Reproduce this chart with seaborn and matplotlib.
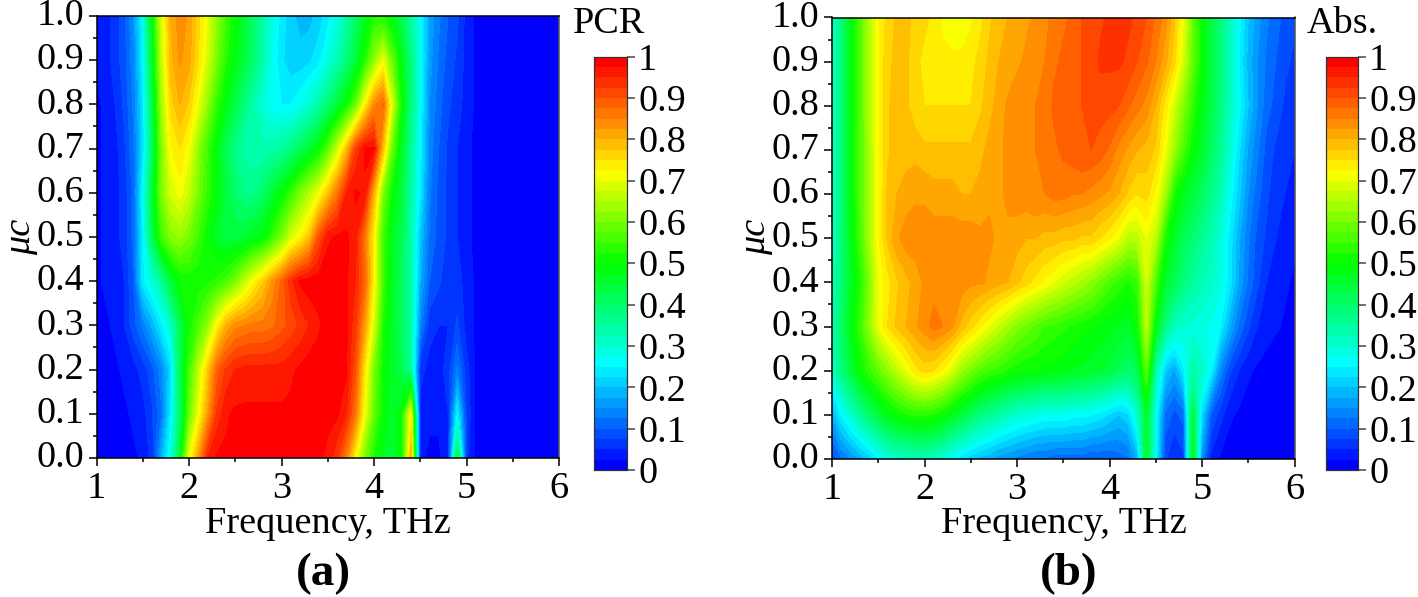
import numpy as np
import pandas as pd
import matplotlib
matplotlib.use("Agg")
import matplotlib.pyplot as plt
from matplotlib.colors import LinearSegmentedColormap
from matplotlib.ticker import FixedLocator
import seaborn as sns

# frequency columns (THz) and mu_c rows, values below are percent
freq = [round(1 + 0.1 * i, 1) for i in range(51)]
mu = [1.0, 0.9, 0.8, 0.7, 0.6, 0.5, 0.4, 0.3, 0.2, 0.1, 0.0]

pcr_vals = [
    [3,4,6,9,15, 26,48,68,80,84, 82,76,70,62,55, 50,45,40,34,28, 24,21,19,19,21, 24,28,33,40,47, 52,52,48,42,35, 26,17,13,10,8, 4,2,1,0,0, 0,0,0,0,0, 0],
    [3,4,6,9,14, 25,45,66,79,83, 81,75,68,60,53, 48,44,39,33,27, 23,21,21,22,24, 28,33,38,44,52, 62,70,58,48,38, 27,16,12,9,7, 4,2,1,0,0, 0,0,0,0,0, 0],
    [2,3,5,8,13, 23,42,63,76,80, 77,70,62,54,48, 43,38,33,29,26, 25,25,27,30,34, 39,44,50,58,72, 84,88,68,50,38, 26,15,11,8,6, 4,2,1,0,0, 0,0,0,0,0, 0],
    [2,3,4,7,12, 22,40,60,72,75, 71,62,55,48,42, 37,34,33,33,34, 35,38,41,45,49, 57,67,78,92,98, 98,78,58,46,36, 25,14,10,7,5, 3,2,1,0,0, 0,0,0,0,0, 0],
    [2,3,4,6,11, 26,44,60,68,71, 67,60,54,49,44, 40,37,37,40,45, 49,54,60,65,70, 78,86,95,98,97, 80,60,50,44,34, 24,13,9,7,5, 3,2,1,0,0, 0,0,0,0,0, 0],
    [2,3,4,6,11, 24,42,55,61,63, 60,55,50,46,44, 44,45,47,49,54, 60,68,72,78,90, 97,98,98,96,86, 72,55,47,42,34, 20,12,9,7,5, 3,2,1,0,0, 0,0,0,0,0, 0],
    [2,3,4,5,10, 24,29,35,44,50, 51,51,52,53,56, 60,66,72,77,83, 88,94,98,99,99, 99,99,98,95,88, 72,55,46,41,34, 18,10,8,6,6, 4,2,1,0,0, 0,0,0,0,0, 0],
    [1,2,3,5,9, 13,18,24,30,42, 51,56,62,72,80, 84,85,86,86,87, 89,91,93,95,97, 99,99,98,93,82, 68,52,46,41,34, 14,6,5,5,8, 4,2,1,0,0, 0,0,0,0,0, 0],
    [1,1,2,3,4, 6,9,14,22,42, 55,66,77,88,93, 95,96,96,96,96, 96,97,98,99,99, 99,99,98,90,74, 60,50,46,42,35, 6,4,4,6,13, 6,2,1,0,0, 0,0,0,0,0, 0],
    [1,1,1,2,3, 4,7,12,24,40, 58,70,82,93,97, 98,98,98,98,98, 98,98,98,98,98, 98,98,95,86,71, 58,50,46,50,72, 4,3,3,5,25, 7,2,1,0,0, 0,0,0,0,0, 0],
    [1,1,1,1,2, 3,6,18,28,45, 70,82,95,98,98, 98,98,98,98,98, 98,98,98,98,98, 97,93,85,72,60, 52,47,44,50,80, 3,2,2,4,45, 6,2,1,0,0, 0,0,0,0,0, 0],
]

abs_vals = [
    [30,38,48,56,65, 72,76,78,78,77, 76,74,72,71,71, 72,74,77,79,80, 81,82,83,84,86, 87,88,90,91,92, 93,93,93,92,90, 87,84,78,70,58, 50,44,38,32,26, 20,16,13,11,9, 8],
    [30,38,48,56,65, 72,77,78,78,76, 74,73,73,73,73, 74,76,78,80,81, 82,83,84,85,87, 88,89,90,91,93, 93,93,92,90,88, 85,81,76,68,58, 50,44,38,32,25, 19,15,12,10,8, 7],
    [30,38,48,56,65, 72,77,79,78,76, 75,75,75,75,75, 75,77,79,81,83, 84,85,85,86,88, 89,90,90,91,91, 91,90,88,86,84, 80,74,68,61,54, 48,43,38,32,26, 20,15,11,9,7, 6],
    [30,38,48,56,64, 72,77,79,79,79, 78,78,78,78,78, 78,79,81,82,83, 83,84,85,86,87, 88,89,90,90,89, 87,84,82,80,79, 77,71,63,56,50, 46,41,36,30,23, 17,13,9,7,6, 5],
    [30,38,48,56,64, 72,78,80,81,82, 82,81,81,81,80, 80,81,82,82,83, 84,84,85,85,86, 86,85,85,84,83, 82,80,77,75,76, 72,64,52,47,44, 41,37,33,27,21, 15,11,8,6,5, 4],
    [30,38,47,55,64, 72,78,82,84,84, 84,84,84,84,84, 84,83,83,82,82, 81,80,80,79,79, 78,78,77,77,75, 73,70,66,66,70, 66,52,46,42,39, 36,33,29,24,18, 13,9,7,5,4, 3],
    [32,38,46,52,60, 70,74,77,79,81, 83,84,85,85,84, 83,83,82,81,80, 78,76,74,72,70, 68,66,64,62,59, 56,54,52,54,68, 56,46,42,38,35, 33,31,28,24,17, 12,8,5,4,3, 2],
    [33,40,48,54,62, 70,75,78,80,82, 84,86,85,83,79, 76,73,70,67,64, 61,59,57,55,54, 53,52,51,50,49, 48,47,46,50,66, 48,38,32,30,29, 28,27,25,18,12, 8,5,4,3,2, 1],
    [30,38,44,50,54, 58,62,66,70,74, 76,75,72,68,63, 60,57,55,54,52, 51,50,50,49,49, 48,47,47,46,45, 44,42,40,42,58, 34,21,17,24,34, 31,25,14,8,5, 3,2,1,0,0, 0],
    [18,25,30,35,40, 44,48,50,52,53, 53,52,50,47,44, 41,38,36,34,32, 30,29,28,27,27, 27,26,26,25,24, 22,20,22,30,46, 27,12,9,11,45, 22,10,6,3,2, 1,0,0,0,0, 0],
    [8,12,15,18,21, 25,28,30,31,32, 32,31,29,26,23, 21,19,18,16,15, 14,13,12,12,11, 11,11,11,10,10, 10,11,12,18,46, 26,8,5,7,48, 15,4,2,1,0, 0,0,0,0,0, 0],
]

x_ticks = [1, 2, 3, 4, 5, 6]
x_minor = [1.5, 2.5, 3.5, 4.5, 5.5]
y_ticks = [round(0.1 * i, 1) for i in range(11)]
y_minor = [round(0.05 + 0.1 * i, 2) for i in range(10)]
cbar_ticks = [round(0.1 * i, 1) for i in range(11)]
cbar_labels = ["0", "0.1", "0.2", "0.3", "0.4", "0.5", "0.6", "0.7", "0.8", "0.9", "1"]

sns.set_theme(style="ticks")
plt.rcParams["font.family"] = ["Liberation Serif", "DejaVu Serif"]
plt.rcParams["text.color"] = "black"
plt.rcParams["xtick.labelcolor"] = "black"
plt.rcParams["ytick.labelcolor"] = "black"

W, H = 1418, 597
fs = 27.5

# origin style rainbow, stepped so the filled levels show
rainbow = LinearSegmentedColormap.from_list(
    "origin_rainbow",
    [(0, "#0000ff"), (0.25, "#00ffff"), (0.5, "#00ff00"), (0.725, "#ffff00"), (1, "#ff0000")],
    N=40,
)


def box(l, t, r, b):
    return [l / W, 1 - b / H, (r - l) / W, (b - t) / H]


def to_col(f):
    return (np.asarray(f) - freq[0]) / (freq[1] - freq[0]) + 0.5


def to_row(m):
    return np.asarray(m) / 0.1 + 0.5


def draw_panel(vals, ax_box, cb_box, name, name_x, name_y, letter, letter_x, xlabel_x, mu_x):
    ax = fig.add_axes(box(*ax_box))
    cax = fig.add_axes(box(*cb_box))
    df = pd.DataFrame(vals, index=mu, columns=freq).sort_index() / 100
    sns.heatmap(df, ax=ax, cbar_ax=cax, cmap=rainbow, vmin=0, vmax=1,
                cbar_kws={"ticks": cbar_ticks})
    # filled levels on top, the heatmap cells alone look blocky
    cols = np.arange(df.shape[1]) + 0.5
    rows = np.arange(df.shape[0]) + 0.5
    ax.contourf(cols, rows, df.values, levels=np.linspace(0, 1, 41), cmap=rainbow,
                vmin=0, vmax=1, extend="both", antialiased=False)
    ax.set_xlim(to_col(freq[0]), to_col(freq[-1]))
    ax.set_ylim(to_row(0), to_row(1))

    ax.set_xticks(to_col(x_ticks))
    ax.set_xticklabels([str(t) for t in x_ticks], rotation=0)
    ax.xaxis.set_minor_locator(FixedLocator(to_col(x_minor)))
    ax.set_yticks(to_row(y_ticks))
    ax.set_yticklabels([f"{t:.1f}" for t in y_ticks], rotation=0)
    ax.yaxis.set_minor_locator(FixedLocator(to_row(y_minor)))
    ax.tick_params(which="major", length=6, width=1.1, color="black", labelsize=fs, pad=3)
    ax.tick_params(which="minor", length=3, width=1.1, color="black")
    ax.tick_params(axis="x", pad=4)
    ax.set_xlabel("")
    ax.set_ylabel("")
    for side in ax.spines:
        ax.spines[side].set_visible(True)
        ax.spines[side].set_linewidth(1.1)
        ax.spines[side].set_color("black")
    ax.spines["right"].set_color("#555555")

    cax.set_yticks(cbar_ticks)
    cax.set_yticklabels(cbar_labels)
    cax.tick_params(length=6, width=1.1, color="#444444", labelsize=fs, pad=2, right=True, left=False)
    for side in cax.spines:
        cax.spines[side].set_visible(True)
        cax.spines[side].set_linewidth(0.8)
        cax.spines[side].set_color("#333333")

    fig.text(name_x / W, 1 - name_y / H, name, fontsize=fs, ha="left", va="center")
    fig.text(xlabel_x / W, 1 - 524 / H, "Frequency, THz", fontsize=fs, ha="center", va="center")
    fig.text(mu_x / W, 1 - 237 / H, "\u03bcc", fontsize=fs, style="italic", rotation=90,
             ha="center", va="center")
    fig.text(letter_x / W, 1 - 574 / H, letter, fontsize=34, fontweight="bold", ha="center", va="center")


fig = plt.figure(figsize=(W / 100, H / 100), dpi=100)
draw_panel(pcr_vals, (96.5, 16, 559, 458), (594, 56.5, 627, 470), "PCR", 573, 24, "(a)", 323, 328, 21)
draw_panel(abs_vals, (832, 17.5, 1294.5, 459), (1326, 56.5, 1358, 470), "Abs.", 1307, 24, "(b)", 1069, 1064, 756)

fig.savefig("out.png", dpi=100)
